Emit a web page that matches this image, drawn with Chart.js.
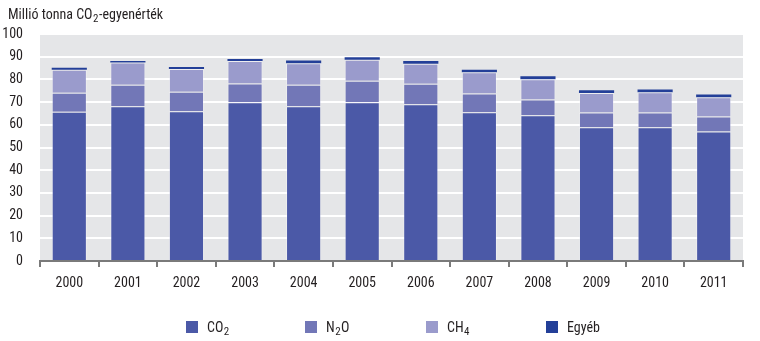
<!DOCTYPE html>
<html>
<head>
<meta charset="utf-8">
<script src="https://cdn.jsdelivr.net/npm/chart.js@4/dist/chart.umd.min.js"></script>
<style>
  html, body { margin: 0; padding: 0; background: #fff; }
  #wrap { width: 760px; height: 341px; position: relative; }
</style>
</head>
<body>
<div id="wrap"><canvas id="myChart"></canvas></div>
<script>
// Adatok (millió tonna CO2-egyenérték)
const evek = ["2000", "2001", "2002", "2003", "2004", "2005", "2006", "2007", "2008", "2009", "2010", "2011"];
const co2 = [65.7, 68.2, 66.0, 69.9, 68.2, 69.9, 69.0, 65.5, 64.2, 58.9, 58.9, 57.0];
const n2o = [8.4, 9.4, 8.6, 8.3, 9.4, 9.5, 9.1, 8.3, 6.9, 6.5, 6.5, 6.7];
const ch4 = [10.2, 9.8, 10.0, 9.9, 9.5, 9.3, 8.8, 9.4, 9.0, 8.6, 8.9, 8.4];
const egyeb = [0.8, 0.7, 0.9, 0.9, 1.2, 1.1, 1.2, 1.1, 1.3, 1.2, 1.3, 1.3];
const yTicks = [0, 10, 20, 30, 40, 50, 60, 70, 80, 90, 100];

const betu = '"Liberation Sans Narrow", "Roboto Condensed", Roboto, sans-serif';
const szinek = ["#4b59a7", "#7277b7", "#9a9bcc", "#233f98"];
const jelmagyarazat = [["CO", "2", ""], ["N", "2", "O"], ["CH", "4", ""], ["Egyéb", "", ""]];

// szoveg also indexszel
function irSub(ctx, x, y, parts, size) {
  ctx.font = size + "px " + betu;
  ctx.fillText(parts[0], x, y);
  x += ctx.measureText(parts[0]).width;
  if (parts[1]) {
    ctx.font = Math.round(size * 0.75) + "px " + betu;
    ctx.fillText(parts[1], x + 0.5, y + 3);
    x += ctx.measureText(parts[1]).width + 1;
  }
  ctx.font = size + "px " + betu;
  ctx.fillText(parts[2], x, y);
}

const hatter = {
  id: "hatter",
  beforeDraw(chart) {
    const { ctx, chartArea } = chart;
    ctx.save();
    ctx.fillStyle = "#e5e6e8";
    ctx.fillRect(chartArea.left, chartArea.top, chartArea.right - chartArea.left, chartArea.bottom - chartArea.top);
    ctx.restore();
  },
  afterDraw(chart) {
    const { ctx } = chart;
    ctx.save();
    ctx.fillStyle = "#231f20";
    ctx.textBaseline = "alphabetic";
    ctx.textAlign = "left";
    // cim
    irSub(ctx, 8, 19, ["Millió tonna CO", "2", "-egyenérték"], 14);
    // jelmagyarazat
    const xs = [186, 305, 426, 546];
    jelmagyarazat.forEach((p, i) => {
      ctx.fillStyle = szinek[i];
      ctx.fillRect(xs[i], 321, 12, 12);
      ctx.fillStyle = "#231f20";
      irSub(ctx, xs[i] + 21, 332, p, 14);
    });
    ctx.restore();
  }
};

const keret = "rgba(255,255,255,0.3)";
const datasets = [
  { label: "CO2", data: co2, backgroundColor: szinek[0], borderWidth: 1 },
  { label: "N2O", data: n2o, backgroundColor: szinek[1], borderWidth: 1 },
  { label: "CH4", data: ch4, backgroundColor: szinek[2], borderWidth: 1 },
  { label: "Egyéb", data: egyeb, backgroundColor: szinek[3], borderWidth: 0 }
].map(d => Object.assign(d, { borderColor: keret, categoryPercentage: 1, barPercentage: 0.6 }));

const config = {
  type: "bar",
  data: { labels: evek, datasets },
  options: {
    responsive: true,
    maintainAspectRatio: false,
    animation: false,
    layout: { padding: { top: 34, right: 17, bottom: 40, left: 0 } },
    plugins: { legend: { display: false }, tooltip: { enabled: false } },
    scales: {
      x: {
        stacked: true,
        afterFit: (s) => { s.height = 40; },
        grid: { offset: true, drawOnChartArea: false, drawTicks: true, tickLength: 6, color: "#7a7a7a", lineWidth: 2 },
        border: { display: true, color: "#7a7a7a", width: 2 },
        ticks: { color: "#231f20", font: { family: betu, size: 14 }, padding: 8 }
      },
      y: {
        stacked: true,
        min: 0,
        max: 100,
        afterFit: (s) => { s.width = 40; },
        afterBuildTicks: (s) => { s.ticks = yTicks.map(v => ({ value: v })); },
        grid: { color: "#ffffff", lineWidth: 2, drawTicks: false },
        border: { display: false },
        ticks: { color: "#231f20", font: { family: betu, size: 14 }, padding: 17 }
      }
    }
  },
  plugins: [hatter]
};

new Chart(document.getElementById("myChart"), config);
</script>
</body>
</html>
